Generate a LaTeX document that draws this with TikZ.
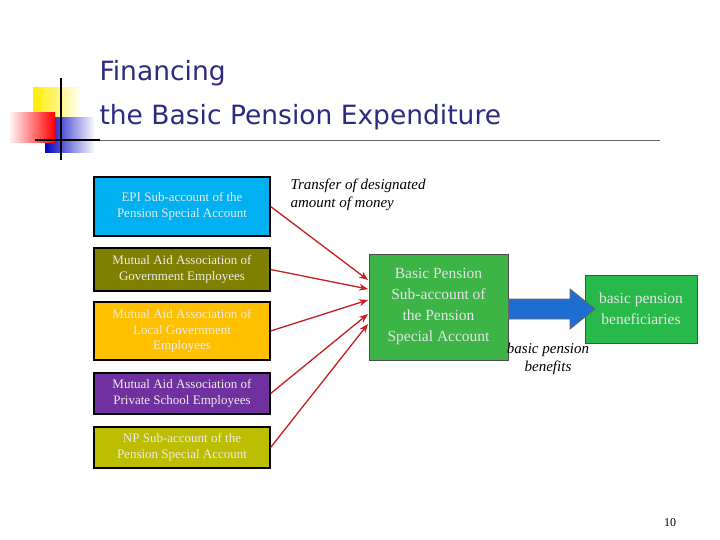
\documentclass[tikz,border=0pt]{standalone}
\usepackage{fontspec}
\setmainfont{Liberation Serif}
\newfontfamily\titlefont{DejaVu Sans}
\usetikzlibrary{arrows.meta}
\definecolor{tblue}{HTML}{2B2B80}
\begin{document}
\begin{tikzpicture}[x=1pt,y=-1pt,
  src/.style={draw=black,line width=1.2pt,text=white!92!black,align=center,font=\fontsize{13}{15.5}\selectfont,inner sep=2pt},
  arr/.style={draw={rgb,255:red,200;green,30;blue,30},line width=1.3pt,-{Stealth[length=9pt,width=7pt]}},
  lab/.style={font=\itshape\fontsize{15}{18}\selectfont,align=left}]
\useasboundingbox (0,0) rectangle (720,540);
\fill[white] (0,0) rectangle (720,540);
% logo
\shade[left color=yellow!85!orange, right color=white] (33,88) rectangle (82,122);
\shade[left color=blue!75!black, right color=white] (45,118) rectangle (95,153);
\shade[left color=red!5, right color=red] (10,113) rectangle (55,143);
\draw[line width=1.5pt] (61,78) -- (61,160);
\draw[line width=1.5pt] (35,140) -- (100,140);
\draw[line width=0.8pt, black!60] (100,140) -- (660,140);
\node[anchor=west,text=tblue,font=\titlefont\fontsize{26.5}{30}\selectfont] (t1) at (96,73) {Financing};
\node[anchor=west,text=tblue,font=\titlefont\fontsize{26.5}{30}\selectfont] (t2) at (96,117) {the Basic Pension Expenditure};
% sources
\node[src,fill={rgb,255:red,0;green,176;blue,240},minimum width=176,minimum height=59] (s1) at (182,206.5) {EPI Sub-account of the\\Pension Special Account};
\node[src,fill={rgb,255:red,128;green,128;blue,0},minimum width=176,minimum height=43] (s2) at (182,269.5) {Mutual Aid Association of\\Government Employees};
\node[src,fill={rgb,255:red,255;green,192;blue,0},minimum width=176,minimum height=58] (s3) at (182,331) {Mutual Aid Association of\\Local Government\\Employees};
\node[src,fill={rgb,255:red,112;green,48;blue,160},minimum width=176,minimum height=41] (s4) at (182,393.5) {Mutual Aid Association of\\Private School Employees};
\node[src,fill={rgb,255:red,190;green,190;blue,0},minimum width=176,minimum height=41] (s5) at (182,447.5) {NP Sub-account of the\\Pension Special Account};
% center
\node[draw=black!70,line width=1pt,fill={rgb,255:red,60;green,180;blue,70},text=white!90!black,align=center,font=\fontsize{15.5}{21}\selectfont,minimum width=139,minimum height=106] (c) at (438.5,307) {Basic Pension\\Sub-account of\\the Pension\\Special Account};
\node[draw=black!70,line width=1pt,fill={rgb,255:red,40;green,185;blue,75},text=white!90!black,align=center,font=\fontsize{15.5}{21}\selectfont,minimum width=112,minimum height=68,inner sep=1pt] (b) at (641,309) {basic pension\\beneficiaries};
% arrows
\coordinate (e1) at (368,280);
\coordinate (e2) at (368,289);
\coordinate (e3) at (368,300);
\coordinate (e4) at (368,314);
\coordinate (e5) at (368,324);
\draw[arr] (s1.east) -- (e1);
\draw[arr] (s2.east) -- (e2);
\draw[arr] (s3.east) -- (e3);
\draw[arr] (s4.east) -- (e4);
\draw[arr] (s5.east) -- (e5);
% big blue arrow
\draw[draw=black!60,fill={rgb,255:red,30;green,110;blue,210},line width=0.8pt] (c.east|-0,299) -- (570,299) -- (570,289) -- (595,309) -- (570,329) -- (570,319) -- (c.east|-0,319) -- cycle;
\node[lab,anchor=north west] (l1) at (287,175) {Transfer of designated\\amount of money};
\node[lab,align=center] (l2) at (548,359) {basic pension\\benefits};
\node[font=\fontsize{12}{14}\selectfont] (pg) at (670,523) {10};
\end{tikzpicture}
\end{document}
